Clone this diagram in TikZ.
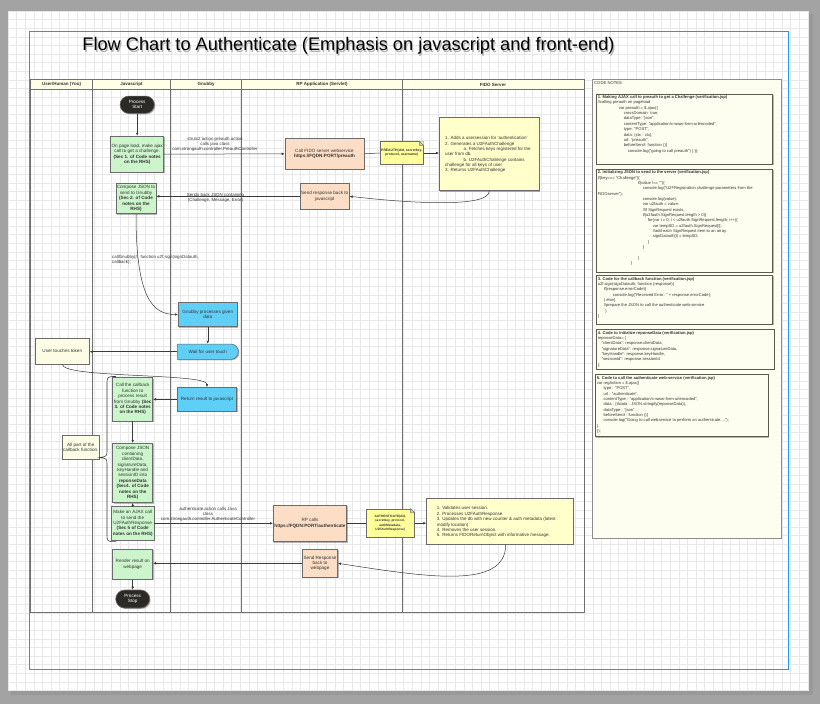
\documentclass[tikz,border=0pt]{standalone}
\usepackage{fontspec}
\setmainfont{Liberation Sans}
\usetikzlibrary{arrows.meta,shapes.misc,shadows}
\definecolor{bggray}{HTML}{A3A3A3}
\definecolor{gridc}{HTML}{E8E8E8}
\definecolor{bluec}{HTML}{1C9BF0}
\definecolor{txt}{HTML}{333333}
\definecolor{boxline}{HTML}{6B6B6B}
\definecolor{lanec}{HTML}{707070}
\definecolor{greenf}{HTML}{CCF5CC}
\definecolor{peachf}{HTML}{FCDEC6}
\definecolor{cyanf}{HTML}{60CFF7}
\definecolor{fidof}{HTML}{FFFFCC}
\definecolor{notef}{HTML}{FFFF99}
\definecolor{creamf}{HTML}{FDFDE6}
\definecolor{darkf}{HTML}{2B2A26}
\definecolor{headf}{HTML}{FFFFE8}
\definecolor{codef}{HTML}{FEFEF0}
\definecolor{codeline}{HTML}{5A5A4E}
\definecolor{linec}{HTML}{3A3A3A}
\begin{document}
\begin{tikzpicture}[x=1pt,y=-1pt,
  shad/.style={drop shadow={shadow xshift=1pt,shadow yshift=-1pt,opacity=0.28,fill=black}},
  basebox/.style={draw=boxline,line width=0.6pt,inner sep=0pt,align=center,text=txt,
     font=\fontsize{4.6}{5.4}\selectfont,shad},
  gbox/.style={basebox,fill=greenf},
  pbox/.style={basebox,fill=peachf},
  cbox/.style={basebox,fill=cyanf},
  ybox/.style={basebox,fill=fidof},
  crbox/.style={basebox,fill=creamf},
  notebox/.style={basebox,fill=notef,font=\bfseries\fontsize{3.4}{4.2}\selectfont},
  termbox/.style={basebox,fill=darkf,text=white,rounded rectangle},
  lanehead/.style={font=\bfseries\fontsize{4.5}{5.4}\selectfont,text=txt,inner sep=0pt},
  lbl/.style={font=\fontsize{4.4}{4.9}\selectfont,text=txt,inner sep=0pt,align=center},
  codebox/.style={draw=codeline,line width=0.7pt,fill=codef,shad},
  codetxt/.style={anchor=north west,align=left,inner sep=0pt,text=txt,font=\fontsize{4.1}{5.35}\selectfont},
  conn/.style={draw=linec,line width=0.5pt,-{Latex[length=3pt,width=2.6pt]}},
  ln/.style={draw=linec,line width=0.5pt},
  lane/.style={draw=lanec,line width=0.8pt}]
\useasboundingbox (0,0) rectangle (820,704);
% background and page
\fill[bggray] (0,0) rectangle (820,704);
\fill[black!40] (11,14) rectangle (813,695);
\fill[white] (8,11) rectangle (809,691);
\foreach \x in {8,16.6,...,809} \draw[gridc,line width=0.45pt] (\x,11) -- (\x,691);
\foreach \y in {11,19.6,...,691} \draw[gridc,line width=0.45pt] (8,\y) -- (809,\y);
\draw[bluec,line width=1pt] (29,31) rectangle (788.5,669.5);
% title
\node[text=black!30,font=\fontsize{18.2}{22}\selectfont,inner sep=0pt] (titleshadow) at (349.7,47.3) {Flow Chart to Authenticate (Emphasis on javascript and front-end)};
\node[text=black,font=\fontsize{18.2}{22}\selectfont,inner sep=0pt] (title) at (348.5,46) {Flow Chart to Authenticate (Emphasis on javascript and front-end)};
% pool
\fill[headf] (30.7,79.3) rectangle (584,89.3);
\draw[lane] (30.7,79.3) rectangle (584,612.3);
\draw[lane] (30.7,89.3) -- (584,89.3);
\foreach \x in {92.7,170.3,241.7,402.3} \draw[lane] (\x,79.3) -- (\x,612.3);
\node[lanehead] (h1) at (61.7,84.5) {User/Human (You)};
\node[lanehead] (h2) at (131.5,84.5) {Javascript};
\node[lanehead] (h3) at (206,84.5) {Gnubby};
\node[lanehead] (h4) at (322,84.5) {RP Application (Servlet)};
\node[lanehead] (h5) at (493,84.5) {FIDO Server};
% code notes panel
\filldraw[draw=black!45,fill=codef,line width=0.7pt,shad] (592.3,79.3) rectangle (781.3,538);
\node[codetxt,font=\fontsize{4.2}{5}\selectfont] (cn) at (594,81.3) {CODE NOTES};
\draw[codebox] (596.7,94) rectangle (772.7,164.3);
\draw[codebox] (596.7,169.3) rectangle (772.7,272.3);
\draw[codebox] (596.7,275) rectangle (772.7,324.3);
\draw[codebox] (596.7,329.3) rectangle (774,369.3);
\draw[codebox] (595.3,374.3) rectangle (768,436.7);
\node[codetxt] (c1) at (597.6,95.4) {\textbf{1. Making AJAX call to preauth to get a Challenge (verification.jsp)}\\
//calling preauth on pageload\\
\hspace*{21pt}var preauth = \$.ajax(\{\\
\hspace*{26pt}crossDomain: true,\\
\hspace*{26pt}dataType: "json",\\
\hspace*{26pt}contentType: "application/x-www-form-urlencoded",\\
\hspace*{26pt}type: "POST",\\
\hspace*{26pt}data: \{ctx : ctx\},\\
\hspace*{26pt}url: "preauth",\\
\hspace*{26pt}beforeSend: function ()\{\\
\hspace*{30pt}console.log("going to call preauth") \} \});};
\node[codetxt] (c2) at (597.6,170.6) {\textbf{2. Initializing JSON to send to the server (verification.jsp)}\\
if(key=== "Challenge")\{\\
\hspace*{40pt}if(value !== "")\{\\
\hspace*{45pt}console.log("U2FRegistration challenge parameters from the\\
FIDOserver");\\
\hspace*{45pt}console.log(value);\\
\hspace*{45pt}var u2fauth = value;\\
\hspace*{45pt}//if SignRequest exists,\\
\hspace*{45pt}if(u2fauth.SignRequest.length > 0)\{\\
\hspace*{50pt}for(var i = 0; i < u2fauth.SignRequest.length; i++)\{\\
\hspace*{55pt}var tempSD = u2fauth.SignRequest[i];\\
\hspace*{55pt}//add each SignRequest item to an array.\\
\hspace*{55pt}signDatauth[i] = tempSD;\\
\hspace*{50pt}\}\\
\hspace*{45pt}\}\\
\mbox{}\\
\hspace*{40pt}\}\\
\hspace*{33pt}\}};
\node[codetxt] (c3) at (597.6,277) {\textbf{3. Code for the callback function (verification.jsp)}\\
u2f.sign(signDatauth, function (response)\{\\
\hspace*{6pt}if(response.errorCode)\{\\
\hspace*{15pt}console.log("Received Error: " + response.errorCode);\\
\hspace*{6pt}\} else\{\\
\hspace*{6pt}//prepare the JSON to call the  authenticate web-service\\
\hspace*{7.5pt}\}\\
\}};
\node[codetxt] (c4) at (597.6,331) {\textbf{4. Code to initialize reponseData (verification.jsp)}\\
reponseData= \{\\
\hspace*{4pt}"clientData": response.clientData,\\
\hspace*{4pt}"signatureData": response.signatureData,\\
\hspace*{4pt}"keyHandle": response.keyHandle,\\
\hspace*{4pt}"sessionId": response.sessionId\\
\};};
\node[codetxt] (c5) at (596.7,376) {\textbf{5. Code to call the authenticate web-service (verification.jsp)}\\
var regAction = \$.ajax(\{\\
\hspace*{6.7pt}type : "POST",\\
\hspace*{6.7pt}url : "authenticate",\\
\hspace*{6.7pt}contentType : "application/x-www-form-urlencoded",\\
\hspace*{6.7pt}data : \{Adata : JSON.stringify(reponseData)\},\\
\hspace*{6.7pt}dataType : "json",\\
\hspace*{6.7pt}beforeSend : function ()\{\\
\hspace*{6.7pt}console.log("Going to call webservice to perform an authenticate....");\\
\}\\
\});};
% flow nodes
\node[termbox,minimum width=34.3,minimum height=17.3] (start) at (137.2,104.7) {Process\\Start};
\node[gbox,minimum width=53,minimum height=36.3] (g1) at (137.2,154.2) {On page load, make ajax\\call to get a challenge.\\\textbf{(Sec 1. of Code notes}\\\textbf{on the RHS)}};
\node[gbox,minimum width=40,minimum height=30.4] (g2) at (136,198.5) {Compose JSON to\\send to Gnubby\\\textbf{(Sec 2. of Code}\\\textbf{notes on the}\\\textbf{RHS)}};
\node[cbox,minimum width=59,minimum height=24.4] (gnub) at (207.8,314.5) {Gnubby processes given\\data};
\node[cbox,rounded rectangle,rounded rectangle left arc=none,minimum width=61,minimum height=15.3] (wait) at (207.8,351.7) {Wait for user touch};
\node[crbox,minimum width=54,minimum height=25.7] (user) at (62.3,351.2) {User touches token};
\node[cbox,minimum width=59.4,minimum height=24] (ret) at (207,399.3) {Return result to javascript};
\node[gbox,minimum width=40,minimum height=43.3] (cb) at (132.7,399.3) {Call the callback\\function to\\process result\\from Gnubby \textbf{(Sec}\\\textbf{3. of Code notes}\\\textbf{on the RHS)}};
\node[crbox,minimum width=37,minimum height=23.6] (allpart) at (80.8,447.5) {All part of the\\callback function.};
\node[gbox,minimum width=40,minimum height=59.4] (compose) at (132.7,473) {Compose JSON\\containing\\clientData,\\signatureData,\\keyHandle and\\sessionID into\\\textbf{reponseData}\\\textbf{(Sec4. of Code}\\\textbf{notes on the}\\\textbf{RHS)}};
\node[gbox,minimum width=42.7,minimum height=33.3] (ajax) at (132.7,523.3) {Make an AJAX call\\to send the\\U2FAuthResponse\\\textbf{(Sec 5 of Code}\\\textbf{notes on the RHS)}};
\node[gbox,minimum width=40,minimum height=30] (render) at (132.7,564.3) {Render result on\\webpage};
\node[termbox,minimum width=34,minimum height=18] (stop) at (132.7,599) {Process\\Stop};
\node[pbox,minimum width=79,minimum height=31] (rp1) at (324.5,153.8) {Call FIDO server webservice\\\textbf{https://FQDN:PORT/preauth}};
\node[pbox,minimum width=49.3,minimum height=26] (sendjs) at (324.7,196.3) {Send response back to\\javascript};
\node[notebox,minimum width=43.3,minimum height=22.6] (note1) at (401.7,153) {PREAUTH(did, secretkey,\\protocol, username)};
\node[ybox,minimum width=100,minimum height=73.4] (fido1) at (489.3,154) {};
\node[anchor=north west,align=left,inner sep=0pt,text=txt,font=\fontsize{4.5}{5.33}\selectfont] (fido1t) at (445,136.3) {1. Adds a usersession for 'authentication'\\
2. Generates a U2FAuthChallenge\\
\hspace*{18.3pt}a. Fetches keys registered for the\\
user from db.\\
\hspace*{18.3pt}b. U2FAuthChallenge contains\\
challenge for all keys of user\\
3. Returns  U2FAuthChallenge};
\node[pbox,minimum width=73.4,minimum height=36.7] (rp2) at (310,523.3) {RP calls\\\textbf{https://FQDN:PORT/authenticate}};
\node[notebox,minimum width=48.3,minimum height=28.3,font=\bfseries\fontsize{3.2}{4.1}\selectfont] (note2) at (390.2,523.2) {AUTHENTICATE(did,\\secretkey, protocol,\\authMetadata,\\U2FAuthResponse)};
\node[ybox,minimum width=146.6,minimum height=46] (fido2) at (500,521.3) {};
\node[anchor=north west,align=left,inner sep=0pt,text=txt,font=\fontsize{4.5}{5.4}\selectfont] (fido2t) at (436.7,506.5) {1. Validates user session.\\
2. Processes U2FAuthResponse.\\
3. Updates the db with new counter  \& auth metadata (latest\\
modify location)\\
4. Removes the user session.\\
5. Returns FIDOReturnObject with informative message.};
\node[pbox,minimum width=35.4,minimum height=28] (sendweb) at (320,563.3) {Send Response\\back to\\webpage};
% note folds
\foreach \n in {note1,note2}{
  \fill[white] ([xshift=-4pt]\n.north east) -- (\n.north east) -- ([yshift=-4pt]\n.north east) -- cycle;
  \filldraw[draw=boxline,fill=notef!60!black!40,line width=0.5pt] ([xshift=-4pt]\n.north east) -- ([yshift=-4pt]\n.north east) -- ([xshift=-4pt,yshift=-4pt]\n.north east) -- cycle;
}
% labels
\node[lbl] (l1) at (215,144.2) {struts2 action preauth.action\\calls java class\\com.strongauth.controller.PreauthController};
\node[lbl] (l2) at (215.5,197.6) {Sends back JSON containing\\(Challenge, Message, Error)};
\node[lbl,anchor=north west,align=left] (l3) at (112,255.6) {callGnubby(//\ \ function u2f.sign(signDatauth,\\callback);};
\node[lbl] (l4) at (208,514.7) {authenticate.action calls Java\\class\\com.strongauth.controller.AuthenticateController};
% connectors
\draw[conn] (start.south) -- (g1.north);
\draw[conn] (g1.east) -- (rp1.west);
\draw[ln] (rp1.east) -- (note1.west);
\draw[conn] (note1.east) -- (note1.east -| fido1.west);
\draw[conn] (fido1.south) .. controls +(0,16) and +(70,8) .. (sendjs.east);
\draw[conn] (sendjs.west) -- (sendjs.west -| g2.east);
\draw[conn] (g2.south) .. controls +(0,85) and +(-25,0) .. (gnub.west);
\draw[conn] (gnub.south) -- (wait.north);
\draw[conn] (wait.west) -- (wait.west -| user.east);
\draw[conn] (user.south) .. controls +(0,14) and +(0,-14) .. (ret.north);
\draw[conn] (ret.west) -- (ret.west -| cb.east);
\draw[conn] (cb.south) -- (compose.north);
\draw[conn] (ajax.north) -- (compose.south);
\draw[conn] (ajax.east) -- (ajax.east -| rp2.west);
\draw[ln] (rp2.east) -- (rp2.east -| note2.west);
\draw[conn] (note2.east) -- (note2.east -| fido2.west);
\draw[conn] ([xshift=5.7pt]fido2.south) .. controls +(0,45) and +(90,14) .. (sendweb.east);
\draw[conn] (sendweb.west) -- (sendweb.west -| render.east);
\draw[conn] (render.south) -- (stop.north);
% brace around the callback steps
\draw[draw=linec,line width=0.6pt] (116,376.5) .. controls (107,376.5) .. (107,385) -- (107,449)
  .. controls (107,456.5) .. (allpart.east |- 0,457.5) .. controls (107,458.5) .. (107,466)
  -- (107,533) .. controls (107,541.7) .. (116,541.7);
\end{tikzpicture}
\end{document}
